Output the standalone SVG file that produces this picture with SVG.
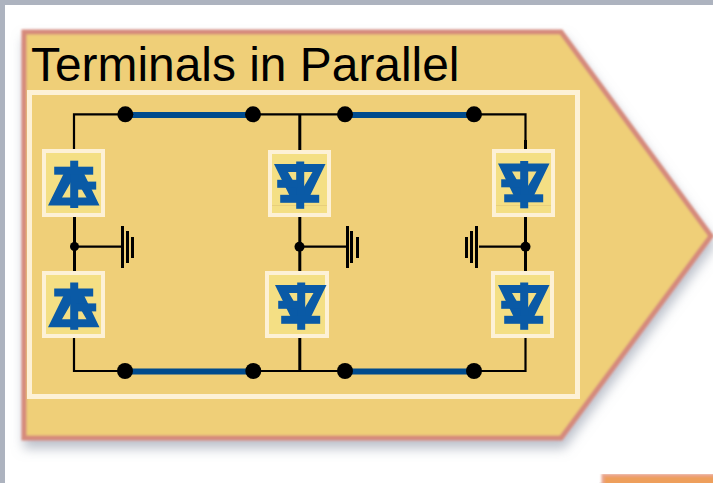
<svg xmlns="http://www.w3.org/2000/svg" width="713" height="483" viewBox="0 0 713 483">
<style>
.wire{fill:none;stroke:#000;stroke-width:2.2}
.lead{fill:none;stroke:#000;stroke-width:3}
.bus{fill:none;stroke:#004b8d;stroke-width:6}
.dot{fill:#000}
.gnd{fill:#000}
.box{fill:#f4df84;stroke:#fdf1d6;stroke-width:4}
.sym{fill:#0a5aa6}
.seam{stroke:#e8cf7c;stroke-width:1}
.title{font-family:"Liberation Sans",Arial,sans-serif;font-size:47.9px;fill:#000}
</style>
<defs>
<filter id="soft" x="-5%" y="-5%" width="112%" height="118%">
<feGaussianBlur in="SourceAlpha" stdDeviation="6" result="b"/>
<feOffset in="b" dx="2" dy="8" result="o"/>
<feFlood flood-color="#8f97a8" flood-opacity="0.6"/>
<feComposite in2="o" operator="in" result="s"/>
<feGaussianBlur in="SourceGraphic" stdDeviation="1.300" result="g"/>
<feMerge><feMergeNode in="s"/><feMergeNode in="g"/></feMerge>
</filter>
<g id="body" class="sym">
<path fill-rule="evenodd" d="M-25.500-19.500H26L10.700 12H-10ZM-11.500-11.500L.7 9.500 13-11.500Z"/>
<rect x="-3.300" y="-22" width="8" height="47.300"/>
<rect x="-19.300" y="11.300" width="39" height="8"/>
</g>
<g id="down"><use href="#body"/><rect class="sym" x="-22.300" y="-3.700" width="20" height="8"/></g>
<g id="up"><use href="#body" transform="scale(1,-1)"/><rect class="sym" x="3" y="-4.400" width="19.700" height="8"/></g>
</defs>
<rect x="0" y="0" width="713" height="483" fill="#fff"/>
<rect x="0" y="0" width="713" height="5" fill="#adb3bf"/>
<rect x="0" y="0" width="5" height="483" fill="#adb3bf"/>
<g id="next-shape"><path d="M603 475H720V490H603Z" fill="#ee9f5c" stroke="#e9a58e" stroke-width="3" filter="url(#soft)"/></g>
<g id="panel">
<path d="M24 32H561L711 236 561 438H24Z" fill="#efcf78" stroke="#d68a7c" stroke-width="5" filter="url(#soft)"/>
<rect x="29.500" y="92.500" width="548" height="304" fill="none" stroke="#fdf1d6" stroke-width="5"/>
<text class="title" x="31" y="81">Terminals in Parallel</text>
</g>
<g id="connectors">
<path class="wire" d="M74 150V114.300H525.500V150M74 337V371H525.500V338"/>
<path class="lead" d="M299.800 114V150M299.800 338V371M74.500 216V271M299.800 217V272M525.500 140V150M525.500 216V271"/>
<path class="bus" d="M125 115H253M345 115H474M125 371.500H253M345 371.500H474"/>
<path class="wire" d="M74.500 246.700H121M299.500 246.700H347M479 246.700H525.500"/>
</g>
<g id="junctions">
<circle class="dot" cx="125.300" cy="114.300" r="8"/><circle class="dot" cx="253" cy="114.300" r="8"/><circle class="dot" cx="345" cy="114.300" r="8"/><circle class="dot" cx="474" cy="114.300" r="8"/>
<circle class="dot" cx="125" cy="371" r="8"/><circle class="dot" cx="253.300" cy="371" r="8"/><circle class="dot" cx="345" cy="371" r="8"/><circle class="dot" cx="474" cy="371" r="8"/>
<circle class="dot" cx="74.500" cy="246.500" r="4.500"/><circle class="dot" cx="299.500" cy="246.700" r="5"/><circle class="dot" cx="525.500" cy="246.700" r="5"/>
</g>
<g id="ground-left"><rect class="gnd" x="121" y="226" width="3" height="42"/><rect class="gnd" x="126" y="231" width="3" height="32"/><rect class="gnd" x="131" y="237" width="3" height="21"/></g>
<g id="ground-mid"><rect class="gnd" x="346" y="226" width="3" height="42"/><rect class="gnd" x="350" y="231" width="3" height="32"/><rect class="gnd" x="356" y="237" width="3" height="21"/></g>
<g id="ground-right"><rect class="gnd" x="475" y="226" width="3" height="42"/><rect class="gnd" x="470" y="231" width="3" height="32"/><rect class="gnd" x="465" y="237" width="3" height="21"/></g>
<g id="thyristor-1"><rect class="box" x="44" y="151" width="59" height="64"/><use href="#up" transform="translate(73.500,186)"/></g>
<g id="thyristor-2"><rect class="box" x="44" y="273" width="59" height="63"/><use href="#up" transform="translate(73.500,307.800)"/></g>
<g id="thyristor-3"><rect class="box" x="270" y="152" width="59" height="63"/><path class="seam" d="M272 205.500H327"/><use href="#down" transform="translate(299.500,183.500)"/></g>
<g id="thyristor-4"><rect class="box" x="267" y="273" width="60" height="63"/><use href="#down" transform="translate(300.500,304.500)"/></g>
<g id="thyristor-5"><rect class="box" x="494" y="151" width="59" height="64"/><path class="seam" d="M496 205.500H551"/><use href="#down" transform="translate(523.500,183)"/></g>
<g id="thyristor-6"><rect class="box" x="493" y="273" width="59" height="63"/><use href="#down" transform="translate(523.500,304.500)"/></g>
</svg>
